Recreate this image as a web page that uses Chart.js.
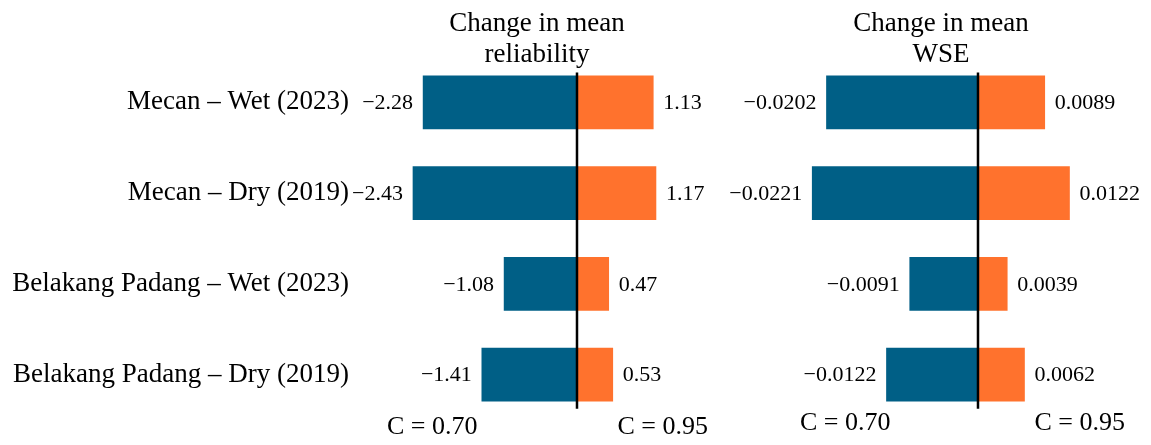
<!DOCTYPE html>
<html>
<head>
<meta charset="utf-8">
<script src="https://cdn.jsdelivr.net/npm/chart.js@4/dist/chart.umd.min.js"></script>
<style>
  html, body { margin: 0; padding: 0; background: #fff; }
  .wrap { position: absolute; top: 0; height: 445px; }
  #leftWrap { left: 0; width: 720px; }
  #rightWrap { left: 720px; width: 431px; }
</style>
</head>
<body>
<div class="wrap" id="leftWrap"><canvas id="relChart"></canvas></div>
<div class="wrap" id="rightWrap"><canvas id="wseChart"></canvas></div>
<script>
const sites = ['Mecan – Wet (2023)', 'Mecan – Dry (2019)', 'Belakang Padang – Wet (2023)', 'Belakang Padang – Dry (2019)'];
const relLow = [-2.28, -2.43, -1.08, -1.41];
const relHigh = [1.13, 1.17, 0.47, 0.53];
const wseLow = [-0.0202, -0.0221, -0.0091, -0.0122];
const wseHigh = [0.0089, 0.0122, 0.0039, 0.0062];
const cLabels = ['C = 0.70', 'C = 0.95'];

const blue = '#005f86';
const orange = '#ff722d';
const serif = '"Liberation Serif", "Times New Roman", serif';

Chart.defaults.font.family = serif;
Chart.defaults.color = '#000';

// titles, zero line, value labels and C labels
const decorations = {
  id: 'decorations',
  afterDatasetsDraw(chart, args, opts) {
    const ctx = chart.ctx;
    const x = chart.scales.x;
    const y = chart.scales.y;
    const area = chart.chartArea;
    ctx.save();

    // zero line
    const x0 = x.getPixelForValue(0);
    ctx.strokeStyle = '#000';
    ctx.lineWidth = 2.5;
    ctx.beginPath();
    ctx.moveTo(x0, y.getPixelForValue(0) - 30);
    ctx.lineTo(x0, y.getPixelForValue(sites.length - 1) + 34);
    ctx.stroke();

    // value labels
    ctx.fillStyle = '#000';
    ctx.font = '22px ' + serif;
    ctx.textBaseline = 'middle';
    chart.data.datasets.forEach((ds, i) => {
      chart.getDatasetMeta(i).data.forEach((bar, j) => {
        const v = ds.data[j];
        const txt = v.toFixed(opts.decimals).replace('-', '\u2212');
        if (v < 0) {
          ctx.textAlign = 'right';
          ctx.fillText(txt, bar.x - 10, bar.y + 1);
        } else {
          ctx.textAlign = 'left';
          ctx.fillText(txt, bar.x + 10, bar.y + 1);
        }
      });
    });

    // title
    ctx.font = '27px ' + serif;
    ctx.textAlign = 'center';
    ctx.textBaseline = 'alphabetic';
    opts.title.forEach((line, k) => ctx.fillText(line, opts.titleX, 31 + k * 31));

    // C labels
    ctx.font = '26px ' + serif;
    ctx.textAlign = 'left';
    ctx.fillText(cLabels[0], area.left, opts.cY);
    ctx.textAlign = 'right';
    ctx.fillText(cLabels[1], area.right, opts.cY);

    ctx.restore();
  }
};

function createChart(el, low, high, opts) {
  const yAxis = {
    stacked: true,
    display: opts.showLabels,
    grid: { display: false, drawTicks: false },
    border: { display: false },
    ticks: { font: { size: 27 }, color: '#000', padding: 38 }
  };
  if (opts.showLabels) {
    yAxis.afterFit = (scale) => {
      scale.width = 387;
      scale.paddingTop = 0;
      scale.paddingBottom = 0;
    };
  }
  return new Chart(el, {
    type: 'bar',
    data: {
      labels: sites,
      datasets: [
        { data: low, backgroundColor: blue, barThickness: 53 },
        { data: high, backgroundColor: orange, barThickness: 53 }
      ]
    },
    options: {
      indexAxis: 'y',
      responsive: true,
      maintainAspectRatio: false,
      animation: false,
      layout: { padding: opts.padding },
      scales: {
        x: {
          stacked: true,
          display: false,
          min: opts.min,
          max: opts.max
        },
        y: yAxis
      },
      plugins: {
        legend: { display: false },
        tooltip: { enabled: false },
        decorations: {
          decimals: opts.decimals,
          title: opts.title,
          titleX: opts.titleX,
          cY: opts.cY
        }
      }
    },
    plugins: [decorations]
  });
}

createChart(document.getElementById('relChart'), relLow, relHigh, {
  min: -2.815, max: 1.941, decimals: 2,
  showLabels: true,
  padding: { left: 0, right: 12, top: 57, bottom: 25 },
  title: ['Change in mean', 'reliability'],
  titleX: 537, cY: 434
});

createChart(document.getElementById('wseChart'), wseLow, wseHigh, {
  min: -0.02373, max: 0.0196, decimals: 4,
  showLabels: false,
  padding: { left: 80, right: 26, top: 57, bottom: 25 },
  title: ['Change in mean', 'WSE'],
  titleX: 221, cY: 430
});
</script>
</body>
</html>
